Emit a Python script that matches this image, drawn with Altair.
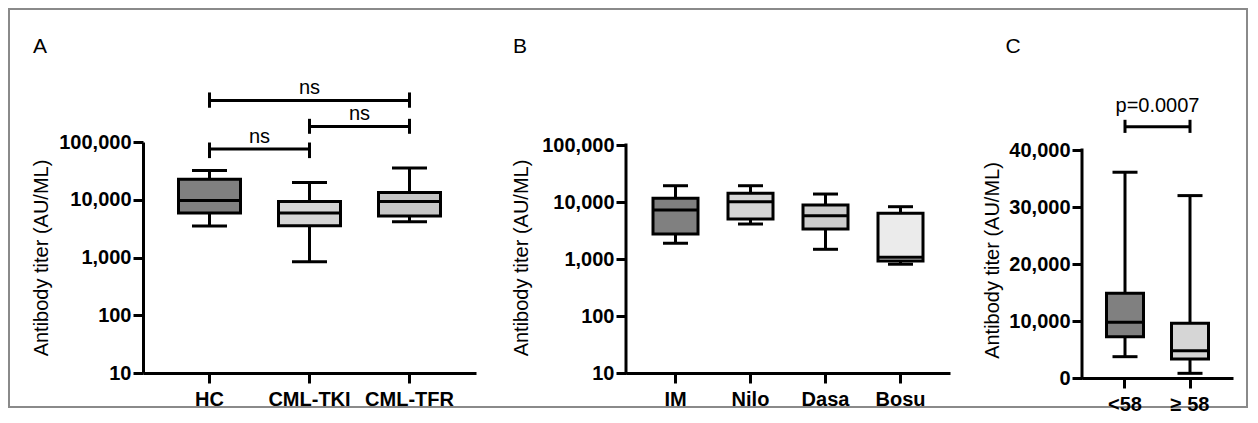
import altair as alt
import pandas as pd

FONT = "Liberation Sans"
TITLE = "Antibody titer (AU/ML)"

# ---------------- Panel A (log scale) ----------------
groups_a = ["HC", "CML-TKI", "CML-TFR"]
min_a = [3500, 840, 4150]
q1_a = [5900, 3550, 5250]
median_a = [9700, 5900, 9300]
q3_a = [22700, 9300, 13300]
max_a = [32000, 19900, 35300]
fill_a = ["#808080", "#d4d4d4", "#c6c6c6"]

brk_a_from = ["HC", "CML-TKI", "HC"]
brk_a_to = ["CML-TKI", "CML-TFR", "CML-TFR"]
brk_a_y = [75300, 186000, 524000]
brk_a_lo = [52600, 138700, 392000]
brk_a_hi = [98000, 252000, 721000]
brk_a_text = ["ns", "ns", "ns"]

# ---------------- Panel B (log scale) ----------------
groups_b = ["IM", "Nilo", "Dasa", "Bosu"]
min_b = [1890, 4110, 1480, 810]
q1_b = [2750, 5030, 3360, 920]
median_b = [7240, 10100, 5750, 1070]
q3_b = [11600, 14200, 8850, 6340]
max_b = [19300, 19300, 13800, 8270]
fill_b = ["#808080", "#d6d6d6", "#cccccc", "#ebebeb"]

# ---------------- Panel C (linear scale) ----------------
groups_c = ["<58", "≥ 58"]
min_c = [3740, 820]
q1_c = [7250, 3330]
median_c = [9770, 4800]
q3_c = [14860, 9600]
max_c = [36100, 32000]
fill_c = ["#808080", "#d6d6d6"]

brk_c_from = ["<58"]
brk_c_to = ["≥ 58"]
brk_c_y = [44100]
brk_c_lo = [43000]
brk_c_hi = [45300]
brk_c_text = ["p=0.0007"]


def make_x(field, groups, outer):
    return alt.X(
        f"{field}:N",
        sort=groups,
        scale=alt.Scale(type="band", domain=groups, paddingInner=0, paddingOuter=outer),
        axis=alt.Axis(labelAngle=0, labelPadding=6, tickSize=10),
        title=None,
    )


def make_y(field, yscale, yaxis):
    return alt.Y(f"{field}:Q", scale=yscale, axis=yaxis, title=TITLE)


def box_layers(groups, lo, q1, med, q3, hi, fills, outer, yscale, yaxis, box_w, cap_w):
    df = pd.DataFrame(dict(group=groups, lo=lo, q1=q1, med=med, q3=q3, hi=hi, fill=fills))
    X = make_x("group", groups, outer)
    base = alt.Chart(df)
    whisk = base.mark_rule(color="black", strokeWidth=3).encode(
        x=X, y=make_y("lo", yscale, yaxis), y2="hi:Q")
    box = base.mark_bar(size=box_w, stroke="black", strokeWidth=3, opacity=1).encode(
        x=X, y=make_y("q1", yscale, yaxis), y2="q3:Q", fill=alt.Fill("fill:N", scale=None))
    medt = base.mark_tick(size=box_w, thickness=3, color="black", opacity=1).encode(
        x=X, y=make_y("med", yscale, yaxis))
    cap1 = base.mark_tick(size=cap_w, thickness=3, color="black", opacity=1).encode(
        x=X, y=make_y("lo", yscale, yaxis))
    cap2 = base.mark_tick(size=cap_w, thickness=3, color="black", opacity=1).encode(
        x=X, y=make_y("hi", yscale, yaxis))
    return [whisk, box, medt, cap1, cap2]


def bracket_layers(groups, outer, step, yscale, yaxis, b_from, b_to, b_y, b_lo, b_hi, b_text, text_dy):
    layers = []
    for g1, g2, yv, lo, hi, t in zip(b_from, b_to, b_y, b_lo, b_hi, b_text):
        dfh = pd.DataFrame({"g1": [g1], "g2": [g2], "y": [yv], "label": [t]})
        layers.append(alt.Chart(dfh).mark_rule(color="black", strokeWidth=3).encode(
            x=make_x("g1", groups, outer), x2="g2:N", y=make_y("y", yscale, yaxis)))
        dfv = pd.DataFrame({"g": [g1, g2], "lo": [lo, lo], "hi": [hi, hi]})
        layers.append(alt.Chart(dfv).mark_rule(color="black", strokeWidth=3).encode(
            x=make_x("g", groups, outer), y=make_y("lo", yscale, yaxis), y2="hi:Q"))
        dx = step * (groups.index(g2) - groups.index(g1)) / 2
        layers.append(alt.Chart(dfh).mark_text(
            font=FONT, fontSize=20, color="black", baseline="alphabetic", align="center",
            dx=dx, dy=text_dy).encode(
            x=make_x("g1", groups, outer), y=make_y("y", yscale, yaxis), text="label:N"))
    return layers


def letter(txt, px, py):
    return alt.Chart(pd.DataFrame({"t": [txt]})).mark_text(
        font=FONT, fontSize=21, color="black", align="center", baseline="middle"
    ).encode(x=alt.value(px), y=alt.value(py), text="t:N")


def yrule(lo, hi, yscale, yaxis):
    return alt.Chart(pd.DataFrame({"lo": [lo], "hi": [hi]})).mark_rule(
        color="black", strokeWidth=3, strokeCap="square").encode(
        x=alt.value(0), y=make_y("lo", yscale, yaxis), y2="hi:Q")


# ---- Panel A ----
ys_a = alt.Scale(type="log", domain=[10, 100000], nice=False)
ya_a = alt.Axis(values=[10, 100, 1000, 10000, 100000], format=",.0f", labelPadding=2,
                tickSize=10, titlePadding=7)
frame = alt.Chart(pd.DataFrame({"f": [0]})).mark_rect(
    fillOpacity=0, stroke="#8a8a8a", strokeWidth=2).encode(
    x=alt.value(-134), x2=alt.value(1104), y=alt.value(-133), y2=alt.value(265))
chart_a = alt.layer(
    frame,
    *box_layers(groups_a, min_a, q1_a, median_a, q3_a, max_a, fill_a, 0.165, ys_a, ya_a, 62, 35),
    *bracket_layers(groups_a, 0.165, 100, ys_a, ya_a, brk_a_from, brk_a_to, brk_a_y,
                    brk_a_lo, brk_a_hi, brk_a_text, -6),
    letter("A", -103, -95),
).properties(width=333, height=231)

# ---- Panel B ----
ys_b = alt.Scale(type="log", domain=[10, 112900], nice=False)
ya_b = alt.Axis(values=[10, 100, 1000, 10000, 100000], format=",.0f", labelPadding=2,
                tickSize=10, titlePadding=10, domain=False)
chart_b = alt.layer(
    yrule(10, 100000, ys_b, ya_b),
    *box_layers(groups_b, min_b, q1_b, median_b, q3_b, max_b, fill_b, 0.16, ys_b, ya_b, 45, 25),
    letter("B", -106, -95),
).properties(width=324, height=231)

# ---- Panel C ----
ys_c = alt.Scale(domain=[0, 41404], nice=False, zero=True)
ya_c = alt.Axis(values=[0, 10000, 20000, 30000, 40000], format=",.0f", labelPadding=2,
                tickSize=10, titlePadding=6, domain=False)
chart_c = alt.layer(
    yrule(0, 40000, ys_c, ya_c),
    *box_layers(groups_c, min_c, q1_c, median_c, q3_c, max_c, fill_c, 0.1615, ys_c, ya_c, 37, 25),
    *bracket_layers(groups_c, 0.1615, 65, ys_c, ya_c, brk_c_from, brk_c_to, brk_c_y,
                    brk_c_lo, brk_c_hi, brk_c_text, -15),
    letter("C", -69, -95),
).properties(width=151, height=236)

chart = alt.hconcat(
    chart_a,
    alt.hconcat(chart_b, chart_c, spacing=132, bounds="flush"),
    spacing=150,
    bounds="flush",
).properties(padding=0).configure_axis(
    domainColor="black", domainWidth=3, tickColor="black", tickWidth=3,
    labelFont=FONT, labelFontSize=20, labelFontWeight="bold", labelColor="black",
    titleFont=FONT, titleFontSize=20, titleFontWeight="normal", titleColor="black",
    grid=False,
).configure_view(stroke=None)

chart.save("out.html", embed_options={"renderer": "svg", "actions": False})
